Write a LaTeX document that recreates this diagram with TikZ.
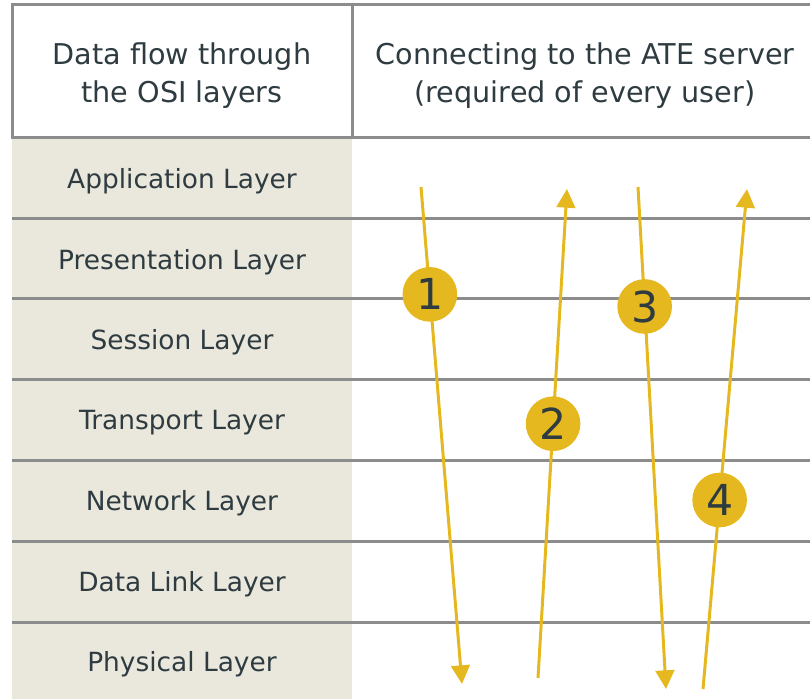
\documentclass[tikz,border=0pt]{standalone}
\usepackage{fontspec}
\setmainfont{DejaVu Sans}
\usetikzlibrary{arrows.meta}
\definecolor{ink}{HTML}{2E3B40}
\definecolor{rule}{HTML}{8C8C8C}
\definecolor{sand}{HTML}{EAE7DD}
\definecolor{gold}{HTML}{E6B820}

\begin{document}
\begin{tikzpicture}[x=0.75pt, y=-0.75pt,
    head/.style={text=ink, align=center, font=\fontsize{21.5}{28.5}\selectfont},
    layer/.style={text=ink, font=\fontsize{19.8}{23}\selectfont},
    flow/.style={gold, line width=2.25pt, -{Triangle[width=14pt, length=14pt]}},
    num/.style={circle, fill=gold, minimum size=41pt, inner sep=0pt, text=ink,
      font=\fontsize{32}{32}\selectfont}]
  \useasboundingbox (0,0) rectangle (810,699);
  \clip (0,0) rectangle (810,699);
  % table
  \fill[sand] (12,137) rectangle (352,699);
  \draw[rule, line width=2.25pt] (12,5) rectangle (820,137);
  \draw[rule, line width=2.25pt] (352,5) -- (352,137);
  \foreach \y in {218,298,379,460,541,622}
    \draw[rule, line width=2.25pt] (12,\y) -- (810,\y);
  \node[head] (h1) at (182,76) {Data flow through\\the OSI layers};
  \node[head] (h2) at (585,76) {Connecting to the ATE server\\(required of every user)};
  \foreach \i/\t in {1/Application Layer, 2/Presentation Layer, 3/Session Layer,
      4/Transport Layer, 5/Network Layer, 6/Data Link Layer, 7/Physical Layer}
    \node[layer] (l\i) at (182,{141+80.5*(\i-0.5)}) {\t};
  % arrows
  \coordinate (a1) at (421,187);
  \coordinate (b1) at (462,684);
  \coordinate (a2) at (538,678);
  \coordinate (b2) at (567,189);
  \coordinate (a3) at (638,187);
  \coordinate (b3) at (666,689);
  \coordinate (a4) at (703,689);
  \coordinate (b4) at (747,189);
  \draw[flow] (a1) -- node[num, pos=0.216] (n1) {1} (b1);
  \draw[flow] (a2) -- node[num, pos=0.52] (n2) {2} (b2);
  \draw[flow] (a3) -- node[num, pos=0.238] (n3) {3} (b3);
  \draw[flow] (a4) -- node[num, pos=0.378] (n4) {4} (b4);
\end{tikzpicture}
\end{document}
